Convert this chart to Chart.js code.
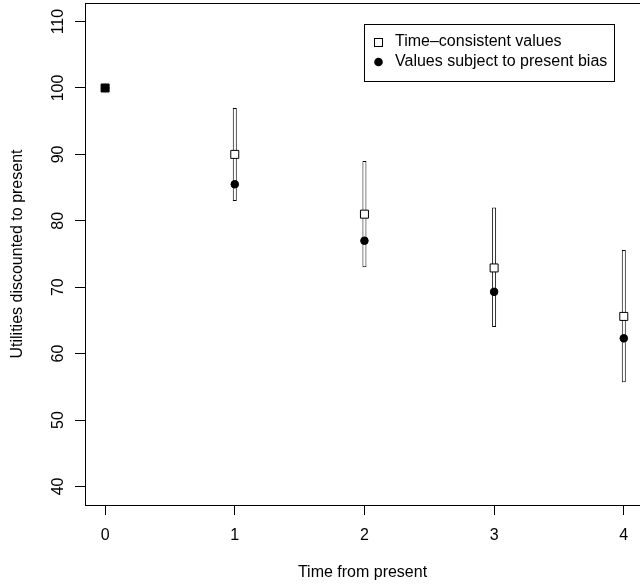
<!DOCTYPE html>
<html><head><meta charset="utf-8">
<script src="https://cdn.jsdelivr.net/npm/chart.js@4/dist/chart.umd.min.js"></script>
<style>html,body{margin:0;padding:0;background:#fff}#wrap{width:640px;height:586px;overflow:hidden}</style>
</head><body><div id="wrap"><canvas id="c" width="640" height="586"></canvas></div>
<script>
const times = [0, 1, 2, 3, 4];
const timeConsistent = [100, 90, 81, 72.9, 65.6];
const presentBias = [100, 85.5, 77, 69.3, 62.3];
const errTimes = [1, 2, 3, 4];
const errUpper = [97, 89, 82, 75.6];
const errLower = [83, 73, 64, 55.7];
const xTicks = [0, 1, 2, 3, 4];
const yTicks = [40, 50, 60, 70, 80, 90, 100, 110];
const seriesNames = ['Time\u2013consistent values', 'Values subject to present bias'];
const xTitle = 'Time from present';
const yTitle = 'Utilities discounted to present';

Chart.defaults.font.family = '"Liberation Sans", Arial, sans-serif';
Chart.defaults.font.size = 16;
Chart.defaults.color = '#000';

const framePlugin = {
  id: 'frame',
  afterDatasetsDraw(chart) {
    const a = chart.chartArea, ctx = chart.ctx;
    ctx.save();
    ctx.fillStyle = '#000';
    ctx.fillRect(Math.round(a.left), Math.round(a.top), Math.round(a.right - a.left), 1);
    ctx.fillRect(Math.round(a.right) - 1 + 6, Math.round(a.top), 1, Math.round(a.bottom - a.top));
    ctx.restore();
  }
};

const legendPlugin = {
  id: 'boxLegend',
  afterDraw(chart) {
    const ctx = chart.ctx;
    ctx.save();
    ctx.strokeStyle = '#000'; ctx.lineWidth = 1;
    ctx.strokeRect(364.5, 24.5, 250, 57);
    ctx.strokeRect(374.5, 38.5, 8, 8);
    ctx.beginPath(); ctx.arc(378.5, 62, 4.3, 0, 2 * Math.PI); ctx.fillStyle = '#000'; ctx.fill();
    ctx.font = '16px "Liberation Sans", Arial, sans-serif';
    ctx.textBaseline = 'middle'; ctx.textAlign = 'left'; ctx.fillStyle = '#000';
    ctx.fillText(seriesNames[0], 395, 42);
    ctx.fillText(seriesNames[1], 395, 62);
    ctx.restore();
  }
};

new Chart(document.getElementById('c'), {
  type: 'scatter',
  data: {
    datasets: [
      {
        type: 'bar',
        label: 'range',
        data: errTimes.map((t, i) => ({ x: t, y: [errLower[i], errUpper[i]] })),
        barThickness: 4,
        borderWidth: 1,
        borderColor: '#000',
        backgroundColor: '#fff',
        borderSkipped: false,
        inflateAmount: 0,
        order: 3
      },
      {
        type: 'scatter',
        label: seriesNames[0],
        data: times.map((t, i) => ({ x: t, y: timeConsistent[i] })),
        pointStyle: 'rect',
        pointRadius: 5.66,
        pointBorderWidth: 1,
        pointBorderColor: '#000',
        pointBackgroundColor: ctx => (ctx.dataIndex === 0 ? '#000' : '#fff'),
        order: 2
      },
      {
        type: 'scatter',
        label: seriesNames[1],
        data: times.map((t, i) => ({ x: t, y: presentBias[i] })),
        pointStyle: 'circle',
        pointRadius: 3.8,
        pointBorderWidth: 1,
        pointBorderColor: '#000',
        pointBackgroundColor: '#000',
        order: 1
      }
    ]
  },
  options: {
    responsive: false,
    devicePixelRatio: 1,
    animation: false,
    events: [],
    layout: { autoPadding: false, padding: { top: 3, right: 0, left: 0, bottom: 0 } },
    plugins: { legend: { display: false }, tooltip: { enabled: false } },
    scales: {
      x: {
        type: 'linear', min: -0.155, max: 4.125, offset: false,
        afterBuildTicks: s => { s.ticks = xTicks.map(v => ({ value: v })); },
        afterFit: s => { s.height = 81; s.paddingLeft = 0; s.paddingRight = 0; },
        grid: { display: true, drawOnChartArea: false, drawTicks: true, tickLength: 10, color: '#000', lineWidth: 1, offset: false },
        border: { display: true, color: '#000', width: 1 },
        ticks: { color: '#000', padding: 11, maxRotation: 0, autoSkip: false, font: { size: 16 } },
        title: { display: true, text: xTitle, color: '#000', font: { size: 16 }, padding: { top: 0, bottom: 4 } }
      },
      y: {
        type: 'linear', min: 37.2, max: 112.8,
        afterBuildTicks: s => { s.ticks = yTicks.map(v => ({ value: v })); },
        afterFit: s => { s.width = 85; s.paddingTop = 0; s.paddingBottom = 0; },
        grid: { display: true, drawOnChartArea: false, drawTicks: true, tickLength: 10, color: '#000', lineWidth: 1 },
        border: { display: true, color: '#000', width: 1 },
        ticks: { color: '#000', padding: 3, minRotation: 90, maxRotation: 90, crossAlign: 'center', autoSkip: false, font: { size: 16 } },
        title: { display: true, text: yTitle, color: '#000', font: { size: 16 }, padding: { top: 8, bottom: 0 } }
      }
    }
  },
  plugins: [framePlugin, legendPlugin]
});
</script>
</body></html>
